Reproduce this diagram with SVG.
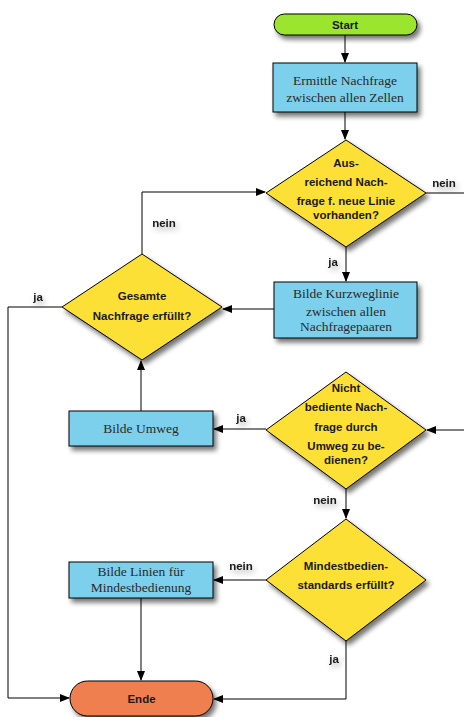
<svg xmlns="http://www.w3.org/2000/svg" width="464" height="717" viewBox="0 0 464 717">
  <style>
    .edge { fill: none; stroke: #000; stroke-width: 1; }
    .node { stroke: #000; stroke-width: 1; filter: url(#shadow); }
    .box { fill: #7dd0ec; }
    .dec { fill: #fde036; }
    .start { fill: #9be52f; }
    .end { fill: #f07f4f; }
    .sans { font-family: "Liberation Sans", Arial, sans-serif; font-weight: bold; font-size: 11.5px; fill: #1a1a1a; text-anchor: middle; dominant-baseline: central; }
    .serif { font-family: "Liberation Serif", "Times New Roman", serif; font-size: 13.5px; fill: #2a2a2a; text-anchor: middle; dominant-baseline: central; }
    .label { font-family: "Liberation Sans", Arial, sans-serif; font-weight: bold; font-size: 11.5px; fill: #1a1a1a; text-anchor: middle; dominant-baseline: central; filter: url(#glow); }
  </style>
  <defs>
    <filter id="shadow" x="-20%" y="-20%" width="150%" height="160%">
      <feGaussianBlur in="SourceAlpha" stdDeviation="2.5"/>
      <feOffset dx="3" dy="4" result="b"/>
      <feComponentTransfer><feFuncA type="linear" slope="0.55"/></feComponentTransfer>
      <feMerge><feMergeNode/><feMergeNode in="SourceGraphic"/></feMerge>
    </filter>
    <filter id="glow" x="-50%" y="-80%" width="200%" height="260%">
      <feGaussianBlur in="SourceAlpha" stdDeviation="3"/>
      <feOffset dx="2" dy="3"/>
      <feComponentTransfer><feFuncA type="linear" slope="0.35"/></feComponentTransfer>
      <feMerge><feMergeNode/><feMergeNode in="SourceGraphic"/></feMerge>
    </filter>
    <marker id="arrow" markerUnits="userSpaceOnUse" markerWidth="10" markerHeight="8" refX="9" refY="4" orient="auto">
      <path d="M0,0 L10,4 L0,8 z" fill="#000"/>
    </marker>
  </defs>

  <!-- connectors -->
  <g id="edges">
    <path class="edge" d="M345,35 V62" marker-end="url(#arrow)"/>
    <path class="edge" d="M345,112 V139" marker-end="url(#arrow)"/>
    <path class="edge" d="M426,193 H464"/>
    <path class="edge" d="M346,247 V281" marker-end="url(#arrow)"/>
    <path class="edge" d="M274,309 H223" marker-end="url(#arrow)"/>
    <path class="edge" d="M142,254 V192 H265" marker-end="url(#arrow)"/>
    <path class="edge" d="M62,307 H8 V698 H69" marker-end="url(#arrow)"/>
    <path class="edge" d="M141,411 V361" marker-end="url(#arrow)"/>
    <path class="edge" d="M464,430 H427" marker-end="url(#arrow)"/>
    <path class="edge" d="M266,429 H214" marker-end="url(#arrow)"/>
    <path class="edge" d="M346,489 V518" marker-end="url(#arrow)"/>
    <path class="edge" d="M266,580 H214" marker-end="url(#arrow)"/>
    <path class="edge" d="M141,598 V680" marker-end="url(#arrow)"/>
    <path class="edge" d="M346,641 V699 H214" marker-end="url(#arrow)"/>
  </g>

  <!-- edge labels -->
  <g id="edge-labels">
    <text class="label" x="444" y="183">nein</text>
    <text class="label" x="164" y="223">nein</text>
    <text class="label" x="333" y="262">ja</text>
    <text class="label" x="38" y="297">ja</text>
    <text class="label" x="241" y="418">ja</text>
    <text class="label" x="325" y="500">nein</text>
    <text class="label" x="241" y="566">nein</text>
    <text class="label" x="334" y="659">ja</text>
  </g>

  <g id="start">
    <rect class="node start" x="274" y="14" width="143" height="21" rx="10.5"/>
    <text class="sans" x="345" y="24.5">Start</text>
  </g>

  <g id="ermittle">
    <rect class="node box" x="273" y="63" width="144" height="49"/>
    <text class="serif" x="345" y="80">Ermittle Nachfrage</text>
    <text class="serif" x="345" y="97">zwischen allen Zellen</text>
  </g>

  <g id="ausreichend">
    <polygon class="node dec" points="346,140 426,193 346,247 266,193"/>
    <text class="sans" x="346" y="163">Aus-</text>
    <text class="sans" x="346" y="182">reichend Nach-</text>
    <text class="sans" x="346" y="201">frage f. neue Linie</text>
    <text class="sans" x="346" y="215">vorhanden?</text>
  </g>

  <g id="kurzweg">
    <rect class="node box" x="274" y="282" width="143" height="56"/>
    <text class="serif" x="346" y="293">Bilde Kurzweglinie</text>
    <text class="serif" x="346" y="311">zwischen allen</text>
    <text class="serif" x="346" y="326">Nachfragepaaren</text>
  </g>

  <g id="gesamte">
    <polygon class="node dec" points="142,254 222,307 142,360 62,307"/>
    <text class="sans" x="142" y="296">Gesamte</text>
    <text class="sans" x="142" y="316">Nachfrage erfüllt?</text>
  </g>

  <g id="umweg">
    <rect class="node box" x="69" y="411" width="144" height="35"/>
    <text class="serif" x="141" y="428">Bilde Umweg</text>
  </g>

  <g id="nicht-bediente">
    <polygon class="node dec" points="346,372 426,430 346,489 266,430"/>
    <text class="sans" x="346" y="388">Nicht</text>
    <text class="sans" x="346" y="407">bediente Nach-</text>
    <text class="sans" x="346" y="427">frage durch</text>
    <text class="sans" x="346" y="446">Umweg zu be-</text>
    <text class="sans" x="346" y="460">dienen?</text>
  </g>

  <g id="mindest">
    <polygon class="node dec" points="346,519 426,580 346,641 266,580"/>
    <text class="sans" x="346" y="566">Mindestbedien-</text>
    <text class="sans" x="346" y="585">standards erfüllt?</text>
  </g>

  <g id="linien">
    <rect class="node box" x="69" y="562" width="144" height="36"/>
    <text class="serif" x="141" y="571">Bilde Linien für</text>
    <text class="serif" x="141" y="587">Mindestbedienung</text>
  </g>

  <g id="ende">
    <rect class="node end" x="70" y="681" width="143" height="35" rx="17.5"/>
    <text class="sans" x="141.5" y="698.5">Ende</text>
  </g>
</svg>
